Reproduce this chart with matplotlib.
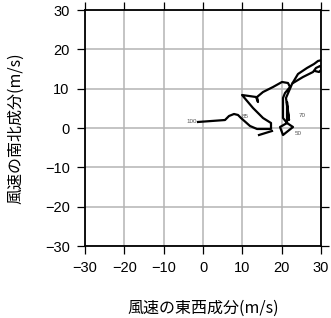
import matplotlib
matplotlib.use("Agg")
import matplotlib.pyplot as plt

plt.rcParams['font.family'] = ['Noto Sans CJK JP', 'DejaVu Sans']

# hodograph trace (u, v) in m/s
u_main = [-1.27, 5.59, 6.61, 7.88, 8.90, 9.66, 11.95, 13.73, 17.29, 17.29, 15.26,
          12.71, 9.92, 13.48, 13.98, 13.73, 15.26, 17.80, 20.09, 21.61, 22.12,
          20.85, 20.34, 20.34, 21.36, 22.88, 20.34, 19.58, 21.36, 21.36, 21.87,
          21.10, 22.63, 24.15, 26.44, 28.22, 29.24, 30.3]
v_main = [1.53, 2.03, 3.05, 3.56, 3.31, 2.54, 0.51, -0.25, -0.25, 1.27, 2.54,
          5.09, 8.39, 7.88, 6.61, 7.88, 9.15, 10.42, 11.70, 11.44, 10.42,
          8.90, 7.63, 2.54, 1.27, 0.25, -1.78, 0.25, 1.27, 6.61, 2.03,
          7.63, 11.19, 13.73, 15.26, 16.27, 17.04, 17.29]
u_loop = [22.88, 25.43, 27.97, 28.73, 29.75, 30.26, 29.49, 28.48]
v_loop = [11.44, 12.97, 14.24, 15.26, 15.76, 15.0, 14.24, 14.49]
u_tail = [14.24, 17.54]
v_tail = [-1.78, -0.76]

# height labels
lab_text = ['100', '85', '70', '50']
lab_u = [-1.5, 10.7, 25.2, 24.2]
lab_v = [1.6, 2.8, 3.3, -1.3]
lab_ha = ['right', 'center', 'center', 'center']

ticks = [-30, -20, -10, 0, 10, 20, 30]
tick_labels = ['\u221230', '\u221220', '\u221210', '0', '10', '20', '30']

fig = plt.figure(figsize=(3.31, 3.18), dpi=100)
ax = fig.add_axes([85 / 331, 72 / 318, 236 / 331, 236 / 318])

ax.plot(u_main, v_main, color='black', lw=1.6, zorder=3)
ax.plot(u_loop, v_loop, color='black', lw=1.6, zorder=3)
ax.plot(u_tail, v_tail, color='black', lw=1.6, zorder=3)
for t, x, y, ha in zip(lab_text, lab_u, lab_v, lab_ha):
    ax.text(x, y, t, fontsize=4.5, color='#555555', ha=ha, va='center',
            family=['Liberation Sans', 'DejaVu Sans'], zorder=4)

ax.set_xlim(-30, 30)
ax.set_ylim(-30, 30)
ax.set_xticks(ticks)
ax.set_yticks(ticks)
ax.set_xticklabels(tick_labels, family=['Liberation Sans', 'DejaVu Sans'])
ax.set_yticklabels(tick_labels, family=['Liberation Sans', 'DejaVu Sans'])
ax.grid(True, color='#b4b4b4', lw=1.1, zorder=0)
ax.tick_params(direction='out', length=6, width=0.9, pad=5, labelsize=10.5,
               top=True, right=True)
for s in ax.spines.values():
    s.set_linewidth(1.3)

ax.set_xlabel('風速の東西成分(m/s)', fontsize=11.5, labelpad=18)
ax.set_ylabel('風速の南北成分(m/s)', fontsize=11.5, labelpad=15)

fig.savefig('out.png', dpi=100)
